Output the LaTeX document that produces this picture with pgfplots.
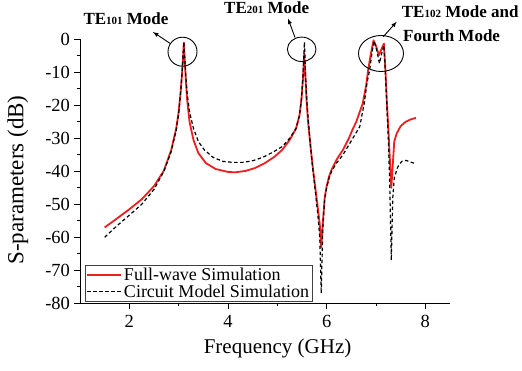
\documentclass[border=0pt]{standalone}
\usepackage{pgfplots}
\pgfplotsset{compat=1.18}
\usepackage{fontspec}
\setmainfont{Liberation Serif}
\definecolor{fwred}{RGB}{240,30,30}
\begin{document}
\begin{tikzpicture}
\begin{axis}[
  at={(0pt,0pt)}, anchor=south west,
  scale only axis, width=370pt, height=264pt,
  xmin=1, xmax=8.5, ymin=-80, ymax=0,
  clip=false,
  axis x line*=bottom, axis y line*=left,
  xtick={2,4,6,8}, ytick={-80,-70,...,0},
  minor x tick num=1, minor y tick num=1,
  tick align=outside,
  major tick length=5.5pt, minor tick length=3pt,
  every tick/.style={black, line width=0.8pt},
  axis line style={line width=0.8pt},
  /pgf/number format/assume math mode=true,
  ticklabel style={font=\fontsize{18.5}{20}\selectfont},
  xticklabel style={yshift=-3pt},
  yticklabel style={xshift=-1pt},
  xlabel={Frequency (GHz)},
  ylabel={S-parameters (dB)},
  xlabel style={font=\fontsize{21}{24}\selectfont, at={(axis description cs:0.534,-0.192)}, anchor=base},
  ylabel style={font=\fontsize{23}{26}\selectfont, at={(axis description cs:-0.168,0.467)}, anchor=center, rotate=0},
  legend style={at={(axis description cs:0.0135,0.006)}, anchor=south west, draw=black!75,
    font=\fontsize{18}{20}\selectfont, inner sep=1pt, row sep=-1.5pt, cells={anchor=west}},
]
\addplot[fwred, line width=1.8pt, line join=round,
  legend image code/.code={\draw[fwred, line width=1.8pt] (0pt,0pt) -- (34pt,0pt);}] coordinates {
(1.50,-57.0) (1.75,-54.3) (2.00,-51.5) (2.25,-48.5) (2.50,-44.5) (2.70,-39.8) (2.85,-33.5) (2.95,-27) (3.00,-22) (3.04,-16) (3.07,-10) (3.09,-5) (3.105,-1) (3.12,-5) (3.14,-11) (3.17,-18) (3.22,-25) (3.30,-30.5) (3.40,-34.5) (3.55,-37.5) (3.75,-39.3) (4.00,-40.2) (4.15,-40.3) (4.35,-39.9) (4.55,-39) (4.75,-37.5) (4.95,-35.5) (5.10,-33.5) (5.25,-30.5) (5.38,-27) (5.45,-23) (5.49,-18) (5.52,-12) (5.545,-4.2) (5.565,-10) (5.59,-18) (5.62,-24.5) (5.67,-32) (5.72,-39) (5.77,-45) (5.82,-51) (5.86,-56) (5.89,-63) (5.92,-56) (5.96,-48) (6.00,-44.5) (6.05,-41.5) (6.10,-39.5) (6.20,-36.5) (6.33,-33.5) (6.45,-30) (6.52,-27.5) (6.60,-25) (6.67,-22) (6.73,-19.5) (6.80,-14) (6.84,-9.4) (6.90,-4) (6.95,-0.3) (7.00,-2) (7.06,-4.8) (7.11,-3) (7.16,-1.3) (7.19,-9) (7.22,-19) (7.25,-27) (7.28,-36) (7.31,-45) (7.34,-38) (7.37,-31) (7.42,-28.5) (7.50,-26.3) (7.60,-25) (7.70,-24.3) (7.81,-23.8)
};
\addlegendentry{Full-wave Simulation}
\addplot[black, line width=1.2pt, dash pattern=on 3.5pt off 2.5pt, line join=round,
  legend image code/.code={\draw[black, line width=1.2pt, dash pattern=on 3.5pt off 2.5pt] (0pt,0pt) -- (34pt,0pt);}] coordinates {
(1.50,-60) (1.75,-56.5) (2.00,-53.3) (2.25,-50) (2.50,-45.5) (2.70,-40) (2.85,-34) (2.95,-27.5) (3.00,-22.5) (3.04,-16) (3.07,-10) (3.09,-5) (3.105,-0.8) (3.12,-5) (3.14,-10) (3.17,-16) (3.22,-22) (3.30,-27) (3.40,-31) (3.52,-33.5) (3.70,-35.8) (3.90,-37) (4.10,-37.3) (4.30,-37.3) (4.50,-36.8) (4.70,-35.8) (4.90,-34.3) (5.10,-32.5) (5.25,-30) (5.38,-27) (5.45,-23) (5.49,-18) (5.52,-11) (5.55,-0.8) (5.57,-10) (5.60,-19) (5.63,-25) (5.67,-32) (5.72,-39.5) (5.77,-46) (5.82,-53) (5.86,-60) (5.89,-77) (5.92,-58) (5.96,-48.5) (6.00,-45) (6.05,-42) (6.10,-40) (6.20,-37.5) (6.33,-35) (6.45,-32) (6.55,-29.5) (6.67,-26.5) (6.76,-19.5) (6.82,-13) (6.87,-9.4) (6.92,-4) (6.96,-0.5) (7.01,-3) (7.07,-7.3) (7.12,-4) (7.16,-1.8) (7.19,-10) (7.22,-20) (7.25,-30) (7.28,-45) (7.31,-67) (7.34,-48) (7.37,-42) (7.44,-38.7) (7.52,-37) (7.61,-36.7) (7.70,-37.2) (7.81,-37.7)
};
\addlegendentry{Circuit Model Simulation}
\end{axis}
\pgfresetboundingbox
\useasboundingbox (-80pt,-66.7pt) rectangle (442pt,303.3pt);
\begin{scope}[line width=0.9pt, black]
\draw (102.5pt,251.6pt) circle (14.5pt);
\draw[-latex] (90.5pt,259.6pt) -- (73pt,271.3pt);
\draw (221.7pt,254pt) ellipse (14.3pt and 12.2pt);
\draw[-latex] (215pt,265.8pt) -- (208pt,284.8pt);
\draw (301pt,249.8pt) ellipse (22.5pt and 18pt);
\draw[-latex] (303.3pt,266.6pt) -- (316.7pt,281.6pt);
\end{scope}
\newcommand{\sm}[1]{{\fontsize{11}{11}\selectfont #1}}
\begin{scope}[every node/.style={font=\fontsize{17}{19}\selectfont\bfseries, inner sep=0pt}]
\node[anchor=base] at (46pt,278.3pt) {TE\sm{101} Mode};
\node[anchor=base] at (186.7pt,290pt) {TE\sm{201} Mode};
\node[anchor=base west] at (321.7pt,285.3pt) {TE\sm{102} Mode and};
\node[anchor=base west] at (323pt,261.6pt) {Fourth Mode};
\end{scope}
\end{tikzpicture}
\end{document}
